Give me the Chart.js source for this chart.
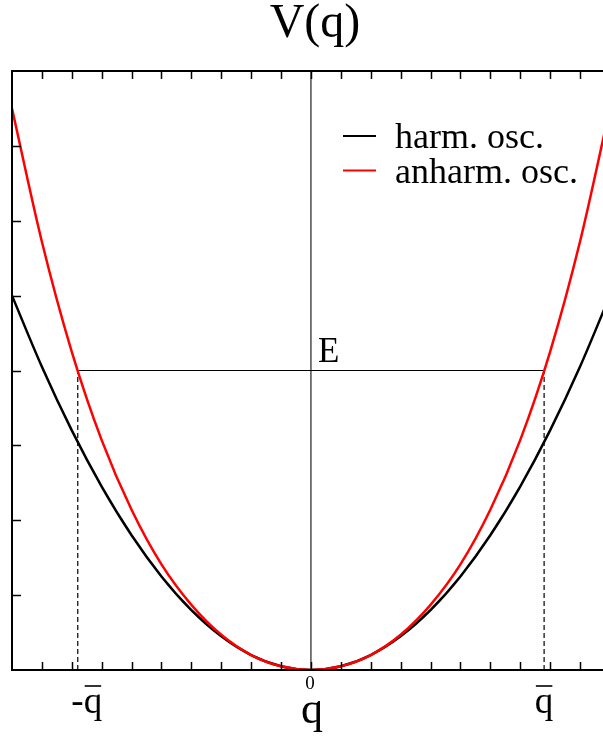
<!DOCTYPE html>
<html>
<head>
<meta charset="utf-8">
<title>V(q)</title>
<script src="https://cdn.jsdelivr.net/npm/chart.js@4.4.1/dist/chart.umd.min.js"></script>
<style>
  html, body { margin: 0; padding: 0; background: #fff; }
  #wrap { width: 603px; height: 736px; }
</style>
</head>
<body>
<div id="wrap"><canvas id="myChart" width="603" height="736"></canvas></div>
<script>
// potential curves, sampled once per unit of q
const qValues     = [-10, -9, -8, -7, -6, -5, -4, -3, -2, -1, 0, 1, 2, 3, 4, 5, 6, 7, 8, 9, 10];
const harmonicV   = [5.0, 4.05, 3.2, 2.45, 1.8, 1.25, 0.8, 0.45, 0.2, 0.05, 0, 0.05, 0.2, 0.45, 0.8, 1.25, 1.8, 2.45, 3.2, 4.05, 5.0];
const anharmonicV = [7.5, 5.72, 4.25, 3.07, 2.14, 1.41, 0.87, 0.47, 0.2, 0.05, 0, 0.05, 0.2, 0.47, 0.87, 1.41, 2.14, 3.07, 4.25, 5.72, 7.5];

// energy level and classical turning points
const energyE = 4;
const turningQ = [-7.8, 7.8];

// axis ticks and labels
const xTickValues = [-9, -8, -7, -6, -5, -4, -3, -2, -1, 0, 1, 2, 3, 4, 5, 6, 7, 8, 9];
const yTickValues = [1, 2, 3, 4, 5, 6, 7];
const xLabelValues = [-7.8, 0, 7.8];
const xLabelTexts = ['-q', '0', 'q'];
const xLabelBarred = [true, false, true];

const legendItems = ['harm. osc.', 'anharm. osc.'];
const legendColors = ['#000000', '#ff0000'];

const SERIF = '"Liberation Serif", "DejaVu Serif", serif';

function toPoints(xs, ys) {
    return xs.map((x, i) => ({ x: x, y: ys[i] }));
}

const framePlugin = {
    id: 'frame',
    beforeDatasetsDraw(chart) {
        const { ctx, chartArea, scales } = chart;
        const x0 = scales.x.getPixelForValue(0);
        ctx.save();
        ctx.strokeStyle = '#333';
        ctx.lineWidth = 1.3;
        ctx.beginPath();
        ctx.moveTo(x0, chartArea.top);
        ctx.lineTo(x0, chartArea.bottom);
        ctx.stroke();
        ctx.restore();
    },
    afterDatasetsDraw(chart) {
        const { ctx, chartArea, scales } = chart;
        const { left, right, top, bottom } = chartArea;
        ctx.save();
        ctx.strokeStyle = '#000';
        ctx.lineWidth = 2;
        ctx.beginPath();
        ctx.moveTo(right + 2, top);
        ctx.lineTo(left, top);
        ctx.lineTo(left, bottom);
        ctx.lineTo(right + 2, bottom);
        ctx.stroke();

        // inward ticks
        ctx.lineWidth = 1.5;
        ctx.beginPath();
        xTickValues.forEach(v => {
            const px = Math.round(scales.x.getPixelForValue(v)) + 0.5;
            ctx.moveTo(px, top);
            ctx.lineTo(px, top + 8);
            ctx.moveTo(px, bottom);
            ctx.lineTo(px, bottom - 8);
        });
        yTickValues.forEach(v => {
            const py = Math.round(scales.y.getPixelForValue(v)) + 0.5;
            ctx.moveTo(left, py);
            ctx.lineTo(left + 9, py);
        });
        ctx.stroke();
        ctx.restore();
    },
    afterDraw(chart) {
        const { ctx, scales } = chart;
        ctx.save();
        ctx.fillStyle = '#000';
        ctx.strokeStyle = '#000';
        ctx.textAlign = 'center';
        ctx.textBaseline = 'alphabetic';

        ctx.font = '48px ' + SERIF;
        ctx.fillText('V(q)', 315, 37);

        // tick labels under the axis, q-bar drawn over the q
        xLabelTexts.forEach((t, i) => {
            const px = scales.x.getPixelForValue(xLabelValues[i]);
            if (!xLabelBarred[i]) {
                ctx.font = '19px ' + SERIF;
                ctx.fillText(t, px - 1, 689);
                return;
            }
            ctx.font = '37px ' + SERIF;
            const cx = px + (i === 0 ? 9 : 0);
            ctx.fillText(t, cx, 713);
            const full = ctx.measureText(t).width;
            const qw = ctx.measureText('q').width;
            const qLeft = cx + full / 2 - qw;
            ctx.lineWidth = 1.6;
            ctx.beginPath();
            ctx.moveTo(qLeft + 1, 686);
            ctx.lineTo(qLeft + qw - 1, 686);
            ctx.stroke();
        });

        ctx.font = '44px ' + SERIF;
        ctx.fillText('q', scales.x.getPixelForValue(0) + 1, 723);

        // energy label
        ctx.textAlign = 'left';
        ctx.font = '35px ' + SERIF;
        ctx.fillText('E', scales.x.getPixelForValue(0) + 7, scales.y.getPixelForValue(energyE) - 9);

        // legend
        ctx.font = '36px ' + SERIF;
        legendItems.forEach((t, i) => {
            const y = 136 + i * 34.5;
            ctx.strokeStyle = legendColors[i];
            ctx.lineWidth = 2;
            ctx.beginPath();
            ctx.moveTo(343, y);
            ctx.lineTo(376, y);
            ctx.stroke();
            ctx.fillText(t, 395, y + 12);
        });
        ctx.restore();
    }
};

const ctx = document.getElementById('myChart').getContext('2d');
new Chart(ctx, {
    type: 'line',
    data: {
        datasets: [
            {
                label: legendItems[1],
                data: toPoints(qValues, anharmonicV),
                borderColor: '#ff0000',
                borderWidth: 2.5,
                pointRadius: 0,
                cubicInterpolationMode: 'monotone',
                order: 0
            },
            {
                label: legendItems[0],
                data: toPoints(qValues, harmonicV),
                borderColor: '#000000',
                borderWidth: 2.5,
                pointRadius: 0,
                cubicInterpolationMode: 'monotone',
                order: 1
            },
            {
                label: 'E',
                data: toPoints(turningQ, [energyE, energyE]),
                borderColor: '#000000',
                borderWidth: 1.2,
                pointRadius: 0,
                order: 2
            },
            {
                label: 'left turning point',
                data: toPoints([turningQ[0], turningQ[0]], [0, energyE]),
                borderColor: '#000000',
                borderWidth: 1.2,
                borderDash: [5, 3],
                pointRadius: 0,
                order: 3
            },
            {
                label: 'right turning point',
                data: toPoints([turningQ[1], turningQ[1]], [0, energyE]),
                borderColor: '#000000',
                borderWidth: 1.2,
                borderDash: [5, 3],
                pointRadius: 0,
                order: 3
            }
        ]
    },
    options: {
        responsive: false,
        animation: false,
        layout: { padding: { left: 12, top: 71, right: 0, bottom: 66 } },
        scales: {
            x: { type: 'linear', min: -10, max: 9.77, display: false },
            y: { type: 'linear', min: 0, max: 8, display: false }
        },
        plugins: {
            legend: { display: false },
            tooltip: { enabled: false }
        }
    },
    plugins: [framePlugin]
});
</script>
</body>
</html>
